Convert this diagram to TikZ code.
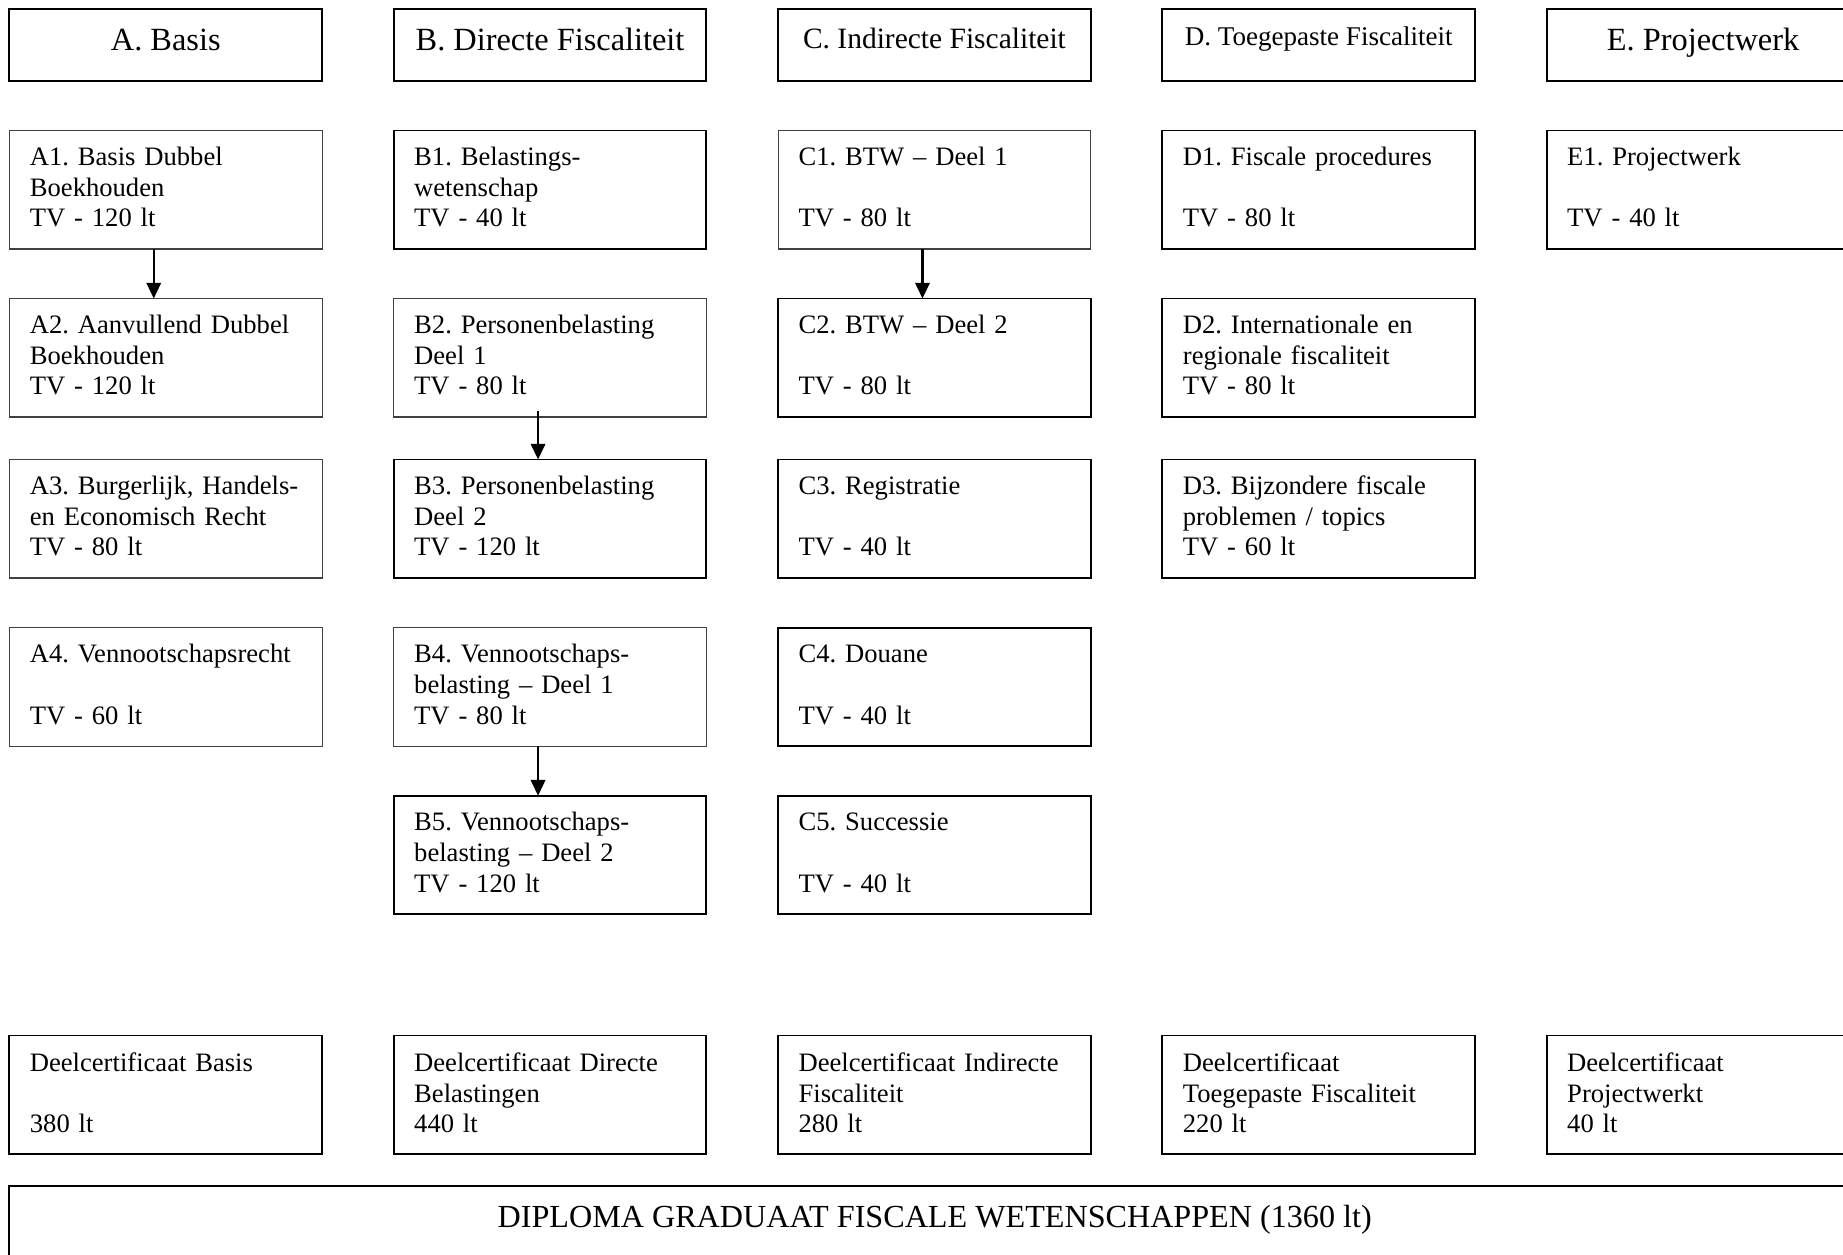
\documentclass[tikz,border=0pt]{standalone}
\usepackage{fontspec}
\setmainfont{Liberation Serif}
\usetikzlibrary{arrows.meta,calc}
\frenchspacing
\protected\def\mybodyfont{\fontsize{12}{13.8}\selectfont\frenchspacing\spaceskip=2.4pt\relax}
\tikzset{
  boxbase/.style={minimum width=141.06pt, minimum height=53.46pt, inner sep=0pt, outer sep=0pt, anchor=north west},
  boxthin/.style={boxbase, draw=black!75, line width=0.5pt},
  boxthick/.style={boxbase, draw=black, line width=0.85pt},
  hdr/.style={boxthick, minimum height=32.34pt},
  txt/.style={anchor=north west, inner sep=0pt, outer sep=0pt, align=left, text width=132pt, font=\mybodyfont},
  hdrtxt/.style={anchor=base, inner sep=0pt},
  arr/.style={-{Triangle[length=7.1pt,width=6.5pt]}, line width=1.05pt},
}
\begin{document}
\begin{tikzpicture}[x=0.4511pt,y=-0.4511pt]
\useasboundingbox (0,0) rectangle (1843,1254);
\clip (0,0) rectangle (1843,1254);
\fill[white] (0,0) rectangle (1843,1254);
% headers
\node[hdr] (HA) at (9.4,9.4) {};
\node[hdrtxt, font=\fontsize{14.6}{16}\selectfont] (HAt) at ($(HA.north)+(0,41.3)$) {A. Basis};
\node[hdr] (HB) at (393.7,9.4) {};
\node[hdrtxt, font=\fontsize{14.6}{16}\selectfont] (HBt) at ($(HB.north)+(0,41.3)$) {B. Directe Fiscaliteit};
\node[hdr] (HC) at (778.1,9.4) {};
\node[hdrtxt, font=\fontsize{13.3}{15}\selectfont] (HCt) at ($(HC.north)+(0,38.9)$) {C. Indirecte Fiscaliteit};
\node[hdr] (HD) at (1162.4,9.4) {};
\node[hdrtxt, font=\fontsize{12.2}{14}\selectfont] (HDt) at ($(HD.north)+(0,36.6)$) {D. Toegepaste Fiscaliteit};
\node[hdr] (HE) at (1546.7,9.4) {};
\node[hdrtxt, font=\fontsize{14.6}{16}\selectfont] (HEt) at ($(HE.north)+(0,41.3)$) {E. Projectwerk};
% column A
\node[boxthin] (A1) at (9.4,130.5) {};
\node[txt] (A1t) at ($(A1.north west)+(20.5,13.8)$) {\strut A1. Basis Dubbel\\Boekhouden\\TV - 120 lt};
\node[boxthin] (A2) at (9.4,298.5) {};
\node[txt] (A2t) at ($(A2.north west)+(20.5,13.8)$) {\strut A2. Aanvullend Dubbel\\Boekhouden\\TV - 120 lt};
\node[boxthin] (A3) at (9.4,459.5) {};
\node[txt] (A3t) at ($(A3.north west)+(20.5,13.8)$) {\strut A3. Burgerlijk, Handels-\\en Economisch Recht\\TV - 80 lt};
\node[boxthin] (A4) at (9.4,627.6) {};
\node[txt] (A4t) at ($(A4.north west)+(20.5,13.8)$) {\strut A4. Vennootschapsrecht\\\strut\\TV - 60 lt};
% column B
\node[boxthick] (B1) at (393.7,130.5) {};
\node[txt] (B1t) at ($(B1.north west)+(20.5,13.8)$) {\strut B1. Belastings-\\wetenschap\\TV - 40 lt};
\node[boxthin] (B2) at (393.7,298.5) {};
\node[txt] (B2t) at ($(B2.north west)+(20.5,13.8)$) {\strut B2. Personenbelasting\\Deel 1\\TV - 80 lt};
\node[boxthick] (B3) at (393.7,459.5) {};
\node[txt] (B3t) at ($(B3.north west)+(20.5,13.8)$) {\strut B3. Personenbelasting\\Deel 2\\TV - 120 lt};
\node[boxthin] (B4) at (393.7,627.6) {};
\node[txt] (B4t) at ($(B4.north west)+(20.5,13.8)$) {\strut B4. Vennootschaps-\\belasting – Deel 1\\TV - 80 lt};
\node[boxthick] (B5) at (393.7,795.7) {};
\node[txt] (B5t) at ($(B5.north west)+(20.5,13.8)$) {\strut B5. Vennootschaps-\\belasting – Deel 2\\TV - 120 lt};
% column C
\node[boxthin] (C1) at (778.1,130.5) {};
\node[txt] (C1t) at ($(C1.north west)+(20.5,13.8)$) {\strut C1. BTW – Deel 1\\\strut\\TV - 80 lt};
\node[boxthick] (C2) at (778.1,298.5) {};
\node[txt] (C2t) at ($(C2.north west)+(20.5,13.8)$) {\strut C2. BTW – Deel 2\\\strut\\TV - 80 lt};
\node[boxthick] (C3) at (778.1,459.5) {};
\node[txt] (C3t) at ($(C3.north west)+(20.5,13.8)$) {\strut C3. Registratie\\\strut\\TV - 40 lt};
\node[boxthick] (C4) at (778.1,627.6) {};
\node[txt] (C4t) at ($(C4.north west)+(20.5,13.8)$) {\strut C4. Douane\\\strut\\TV - 40 lt};
\node[boxthick] (C5) at (778.1,795.7) {};
\node[txt] (C5t) at ($(C5.north west)+(20.5,13.8)$) {\strut C5. Successie\\\strut\\TV - 40 lt};
% column D
\node[boxthick] (D1) at (1162.4,130.5) {};
\node[txt] (D1t) at ($(D1.north west)+(20.5,13.8)$) {\strut D1. Fiscale procedures\\\strut\\TV - 80 lt};
\node[boxthick] (D2) at (1162.4,298.5) {};
\node[txt] (D2t) at ($(D2.north west)+(20.5,13.8)$) {\strut D2. Internationale en\\regionale fiscaliteit\\TV - 80 lt};
\node[boxthick] (D3) at (1162.4,459.5) {};
\node[txt] (D3t) at ($(D3.north west)+(20.5,13.8)$) {\strut D3. Bijzondere fiscale\\problemen / topics\\TV - 60 lt};
% column E
\node[boxthick] (E1) at (1546.7,130.5) {};
\node[txt] (E1t) at ($(E1.north west)+(20.5,13.8)$) {\strut E1. Projectwerk\\\strut\\TV - 40 lt};
% certificates
\node[boxthick] (CA) at (9.4,1035.5) {};
\node[txt] (CAt) at ($(CA.north west)+(20.5,14.6)$) {\strut Deelcertificaat Basis\\\strut\\380 lt};
\node[boxthick] (CB) at (393.7,1035.5) {};
\node[txt] (CBt) at ($(CB.north west)+(20.5,14.6)$) {\strut Deelcertificaat Directe\\Belastingen\\440 lt};
\node[boxthick] (CC) at (778.1,1035.5) {};
\node[txt] (CCt) at ($(CC.north west)+(20.5,14.6)$) {\strut Deelcertificaat Indirecte\\Fiscaliteit\\280 lt};
\node[boxthick] (CD) at (1162.4,1035.5) {};
\node[txt] (CDt) at ($(CD.north west)+(20.5,14.6)$) {\strut Deelcertificaat\\Toegepaste Fiscaliteit\\220 lt};
\node[boxthick] (CE) at (1546.7,1035.5) {};
\node[txt] (CEt) at ($(CE.north west)+(20.5,14.6)$) {\strut Deelcertificaat\\Projectwerkt\\40 lt};
% diploma
\node[boxthick, minimum width=834.8pt, minimum height=50pt] (DIP) at (9.4,1186) {};
\node[hdrtxt, font=\fontsize{14.5}{16}\selectfont] (DIPt) at ($(DIP.north)+(0,41)$) {DIPLOMA GRADUAAT FISCALE WETENSCHAPPEN (1360 lt)};
% arrows
\draw[arr] ($(A1.south)+(-12,0)$) -- ($(A2.north)+(-12,0)$);
\draw[arr] ($(C1.south)+(-12,0)$) -- ($(C2.north)+(-12,0)$);
\draw[arr] ($(B2.south)+(-12,-6)$) -- ($(B3.north)+(-12,0)$);
\draw[arr] ($(B4.south)+(-12,0)$) -- ($(B5.north)+(-12,0)$);
\end{tikzpicture}
\end{document}
